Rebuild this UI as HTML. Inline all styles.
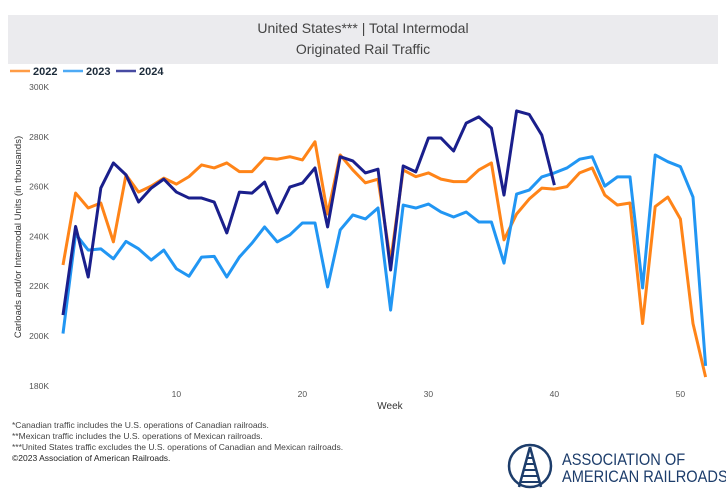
<!DOCTYPE html>
<html><head><meta charset="utf-8"><style>
body{margin:0;width:726px;height:492px;background:#fff;font-family:"Liberation Sans",sans-serif;overflow:hidden;position:relative}
#title{position:absolute;left:8px;top:15px;width:710px;height:49px;background:#ebebee;text-align:center;color:#444;font-size:14px;line-height:21px;padding-top:3px;box-sizing:border-box}
.fn{position:absolute;left:12px;font-size:8.5px;color:#444;white-space:nowrap}
</style></head><body>
<div id="title">United States*** | Total Intermodal<br>Originated Rail Traffic</div>
<svg id="chart" width="726" height="492" style="position:absolute;left:0;top:0"></svg>
<div class="fn" style="top:420px">*Canadian traffic includes the U.S. operations of Canadian railroads.</div>
<div class="fn" style="top:431px">**Mexican traffic includes the U.S. operations of Mexican railroads.</div>
<div class="fn" style="top:442px">***United States traffic excludes the U.S. operations of Canadian and Mexican railroads.</div>
<div class="fn" style="top:453px;color:#222">&copy;2023 Association of American Railroads.</div>
<div style="position:absolute;left:506px;top:442px;width:220px;height:48px">
<svg width="50" height="48" style="position:absolute;left:0;top:0"><circle cx="24" cy="24" r="21" fill="none" stroke="#1d3d6b" stroke-width="2.5"/><path d="M24 5 L13 45 M24 5 L35 45" stroke="#1d3d6b" stroke-width="2.5" fill="none"/><g stroke="#1d3d6b" stroke-width="2"><line x1="20" y1="16" x2="28" y2="16"/><line x1="19" y1="22" x2="29" y2="22"/><line x1="17" y1="28" x2="31" y2="28"/><line x1="16" y1="34" x2="32" y2="34"/><line x1="14" y1="40" x2="34" y2="40"/></g></svg>
<div style="position:absolute;left:56px;top:9px;font-size:17px;line-height:17px;color:#1d3d6b;white-space:nowrap;transform:scaleX(0.86);transform-origin:left">ASSOCIATION OF<br>AMERICAN RAILROADS</div>
</div>
<script>
const weeks=[];for(let i=1;i<=52;i++)weeks.push(i);
const s2022=[228.5,257.4,251.4,253.4,237.8,264.7,257.8,260.2,263.4,261,264,268.7,267.5,269.5,266,266,271.5,271,272,270.7,278,249,272.7,266.7,261.5,263,230,266.7,264,265.5,263,262,262,266.7,269.5,238.6,249,255,259.4,259,260,265.5,267.5,256.6,252.6,253.4,205,252,255.8,247,205,183.5];
const s2023=[201,241,234.5,235,231,238,235,230.5,234.5,227,224,231.7,232,223.7,231.7,237.3,243.8,237.8,240.6,245.4,245.4,219.7,242.6,248.6,247,251.4,210.4,252.6,251.4,253,249.8,247.8,249.8,245.8,245.8,229.3,257,258.6,263.9,265.5,267.5,271,272,260.2,263.9,263.9,219.3,272.7,270,268,255.8,188];
const s2024=[208.4,244,223.7,259.4,269.5,264.7,253.8,259.4,263,257.8,255.4,255.4,253.8,241.4,257.8,257.4,261.8,249.4,259.8,261.4,267.5,243.8,272,270.3,265.5,267,226.5,268.3,265.9,279.5,279.5,274.3,285.5,288,283.5,256.6,290.4,289,280.7,260.6];
const yTicks=[180,200,220,240,260,280,300];
const xTicks=[10,20,30,40,50];
const series=[["2022",s2022,"#ff8418"],["2023",s2023,"#2196f3"],["2024",s2024,"#1a1f8c"]];
const NS="http://www.w3.org/2000/svg";
const svg=document.getElementById('chart');
const X=w=>63+12.6*(w-1);
const Y=v=>87+(300-v)*2.49;
function mk(t,a){const e=document.createElementNS(NS,t);for(const k in a)e.setAttribute(k,a[k]);svg.appendChild(e);return e;}
yTicks.forEach(v=>{const t=mk('text',{x:49,y:Y(v)+3,'font-size':8.5,fill:'#555','text-anchor':'end','font-family':'Liberation Sans'});t.textContent=v+'K';

});
xTicks.forEach(w=>{const t=mk('text',{x:X(w),y:397,'font-size':8.5,fill:'#555','text-anchor':'middle','font-family':'Liberation Sans'});t.textContent=w;

});
const xt=mk('text',{x:390,y:409,'font-size':10,fill:'#333','text-anchor':'middle','font-family':'Liberation Sans'});xt.textContent='Week';


const yt=mk('text',{x:0,y:0,'font-size':9.5,fill:'#333','text-anchor':'middle','font-family':'Liberation Sans',transform:'translate(21,237) rotate(-90)'});yt.textContent='Carloads and/or Intermodal Units (in thousands)';


series.forEach(([name,vals,c])=>{const p=mk('polyline',{points:vals.map((v,i)=>X(weeks[i])+','+Y(v)).join(' '),fill:'none',stroke:c,'stroke-width':3,'stroke-linejoin':'round'});

});
let lx=10;series.forEach(([name,vals,c])=>{const l=mk('line',{x1:lx,y1:71,x2:lx+20,y2:71,stroke:c,'stroke-width':2.5,opacity:0.8});


const t=mk('text',{x:lx+23,y:75,'font-size':11,'font-weight':'bold',fill:'#1c2b3a','font-family':'Liberation Sans'});t.textContent=name;


lx+=53;});
</script>
</body></html>
